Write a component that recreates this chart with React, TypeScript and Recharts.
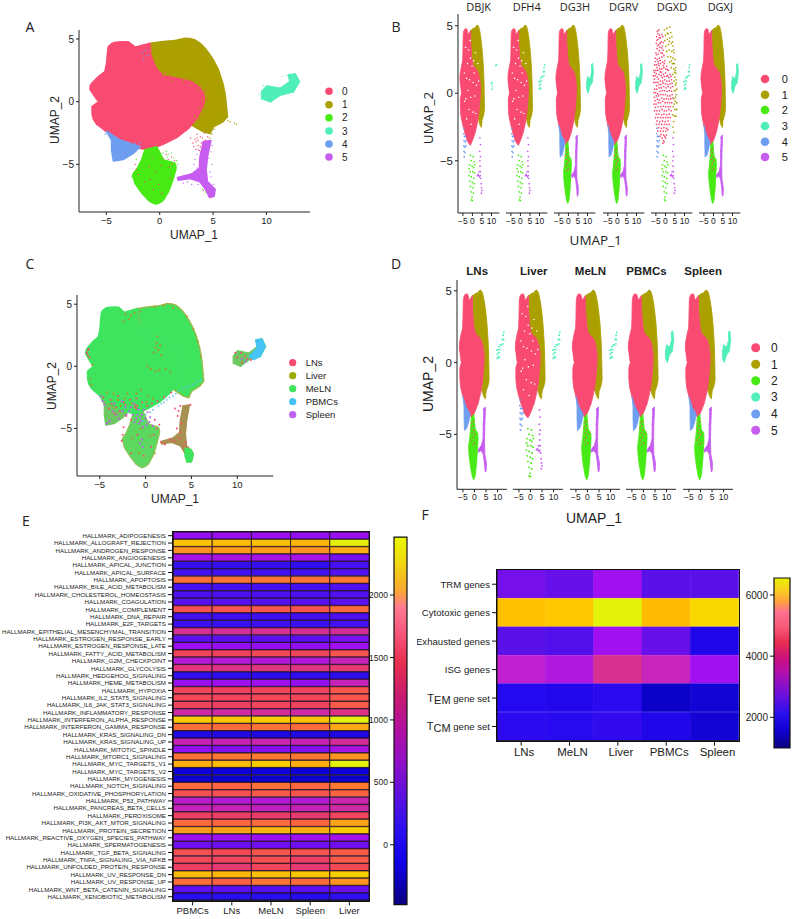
import React from "react";
import { ScatterChart, Scatter, XAxis, YAxis, BarChart, Bar, Cell } from "recharts";

type Pt = [number, number];
const FONT = "'Liberation Sans', Arial, sans-serif";
const LETTER = "'Open Sans', sans-serif";

// ---------- colours
const clusterColors = ["#F94B72", "#ABA000", "#47EA14", "#50EEB8", "#6E9EF0", "#C65DF0"];
const clusterNames = ["0", "1", "2", "3", "4", "5"];
const tissueNames = ["LNs", "Liver", "MeLN", "PBMCs", "Spleen"];
const tissueColors = ["#F94B72", "#9DA800", "#3EE35E", "#45C4F5", "#BC64F0"];
const MIX_GREEN = "#3EE35E";

// ---------- UMAP cluster outlines
const outline0: Pt[] = [[-4.91,3.72],[-4.81,4.39],[-4.5,4.62],[-4.19,4.73],[-3.5,4.78],[-2.94,4.76],[-2.6,4.55],[-2.31,4.34],[-1.6,4.5],[-0.91,4.65],[-0.84,3.72],[-0.34,2.66],[0.34,2.05],[1.59,1.86],[2.84,1.6],[3.4,1.35],[3.78,1.06],[4.05,0.75],[4.19,0.4],[4.15,-0.05],[3.94,-0.53],[3.47,-1.33],[2.69,-2.13],[1.59,-2.85],[0.34,-3.38],[-1.06,-3.86],[-2.47,-3.59],[-3.72,-3.06],[-4.97,-2.39],[-5.91,-1.78],[-6.2,-1.4],[-6.31,-1.06],[-6.34,-0.4],[-5.95,-0.15],[-5.69,0],[-5.9,0.2],[-6.06,0.4],[-6.53,0.98],[-6.5,1.25],[-6.38,1.46],[-5.75,1.99],[-5.13,2.39],[-4.97,3.06]];
const outline1: Pt[] = [[-0.91,4.65],[0.34,4.79],[1.44,4.87],[2.38,5.05],[2.9,5.02],[3.31,4.92],[3.85,4.6],[4.25,4.26],[4.7,3.75],[5.03,3.32],[5.5,2.53],[5.91,1.46],[6.1,0.7],[6.22,-0.13],[6.34,-1.2],[5.91,-1.6],[5.03,-2],[4.72,-2.53],[4.09,-2.39],[3,-1.86],[0,0]];
const outline2: Pt[] = [[-1.38,-3.85],[-0.28,-3.6],[0.34,-4.65],[1.44,-4.92],[1.53,-5.32],[1.22,-6.25],[0.81,-7.18],[0.34,-7.85],[0,-8.05],[-0.34,-8.16],[-0.7,-8.05],[-1.06,-7.85],[-1.69,-7.26],[-2.31,-6.52],[-2.53,-5.85],[-2.09,-5.32],[-1.69,-4.65]];
const outline3: Pt[] = [[9.56,0.8],[10.03,1.25],[11.28,1.06],[12.22,1.6],[12.06,2.13],[12.69,2.21],[13.09,1.6],[12.53,0.8],[11.28,0.53],[10.34,0],[9.56,0.27]];
const outline4: Pt[] = [[-4.97,-2.39],[-3.72,-3.06],[-1.84,-3.59],[-2.47,-4.12],[-3.41,-4.6],[-4.34,-4.73],[-4.5,-3.86],[-4.5,-3.06]];
const outline5: Pt[] = [[4.09,-3.19],[4.78,-3.11],[4.47,-4.39],[4.34,-5.45],[4.47,-6.38],[5.19,-7],[5.09,-7.53],[4.66,-7.63],[4.34,-7.05],[3.78,-6.38],[2.84,-6.12],[1.75,-6.25],[1.66,-6.06],[3,-5.77],[3.72,-5.32],[3.78,-4.39]];
const footOutline: Pt[] = [[4.3,-6.6],[5,-6.7],[5.2,-7.1],[5,-7.7],[4.5,-7.7],[4.3,-7.2]];
const pbmcOutline: Pt[] = [[11.3,0.8],[12.2,1.5],[12,2.1],[12.7,2.2],[13.05,1.6],[12.5,0.8],[11.8,0.55]];
const outlines = [outline0, outline1, outline2, outline3, outline4, outline5];

// ---------- loose cells
const aPink: Pt[] = [[3.5,-2.6],[3.8,-2.8],[4.2,-2.5],[4.5,-2.8],[3.4,-3.2],[3.6,-3.5],[3.9,-3.3],[4.1,-3.6],[3.4,-3.8],[3.7,-3.9],[3.9,-4],[3.2,-3.6],[4.3,-3.1],[2.9,-2.9],[3.1,-3.3],[0.6,-4.2],[1.1,-4.4],[1.4,-4.7],[1.2,-5],[0.8,-4.6],[0.3,-4.5],[0.9,-5.2],[-2.3,-5],[-2.2,-5.4],[-2,-5.8],[-0.7,-4.5],[-1,-5.2],[-0.4,-5.6],[-0.9,-6.2],[-0.1,-6.6],[0.1,-5.1],[-1.4,-6.4],[-0.6,-7],[0.2,-7.3],[1,-6.1],[0.5,2.3],[1,2.1],[2,1.9],[2.5,1.8],[3,1.7],[3.8,1.2],[4.3,0.9],[4.4,0.2],[4.2,-0.4],[4,-1],[3.7,-1.4],[3.3,-3],[3.6,-3.1],[4,-2.9],[3.5,-2.9],[3.8,-3.6],[3.6,-3.8]];
const aOlive: Pt[] = [[6.6,-1.6],[7,-1.7],[7.2,-1.8],[6.4,-1.5],[5.1,-2.2],[4.9,-2.6],[4.7,-2.9],[-0.5,3.6],[-0.3,3],[0,2.5],[0.3,2.1],[1.2,1.7],[2.2,1.6],[3,1.3],[3.6,1],[4,0.2],[3.7,-0.5],[3.3,-1.2]];
const aGreen: Pt[] = [[-2.2,-4.6],[-2.4,-5.6],[-2.6,-6],[0.3,-4.1],[0.8,-4.2],[1.3,-4.5],[1.6,-4.7],[1,-4.8],[1.5,-5.2],[1.7,-5],[0.6,-3.95],[4,-7],[4.3,-7.2],[0.2,-4.4],[0.7,-4.4],[1.1,-4.1]];
const aPurple: Pt[] = [[3.2,-5],[3.3,-4.6],[4.9,-5],[4.6,-4.5],[4.7,-5.6],[3,-5.9],[2.5,-5.9],[2.2,-6.5],[3,-6.6],[3.6,-6.6],[4.1,-7.1],[5,-6.6],[4.8,-6],[3.7,-3.9],[3.5,-4.2],[3.5,-5.3],[3.4,-5.7],[4.8,-4],[4.9,-3.5],[2.6,-6.4]];
const aBlue: Pt[] = [[-4.8,-2.4],[-5.1,-2.6],[-4.6,-2.9],[-3.5,-3.3],[-3,-3.4],[-2.3,-3.3],[-1.8,-3.3],[-1.6,3.9],[-1.3,4.1],[-1.1,3.7],[-1.5,3.4]];
const aTeal: Pt[] = [[9.3,0.6],[9.7,1.3],[9.5,0.2],[10.5,-0.05],[11.9,2.1],[11.5,2.05]];

// ---------- sparse samples (DGXD, DBJK, Liver ...)
const sparse0: Pt[] = [[-4.2,4.6],[-3.4,4.7],[-4.6,4.2],[-3.1,4.3],[-3.9,4],[-2.6,4.1],[-4.8,3.7],[-3.5,3.6],[-2.2,3.8],[-1.4,4.2],[-4.4,3.3],[-2.9,3.4],[-1.6,3.5],[-5,3],[-3.7,2.9],[-2.4,3],[-1.2,3.2],[-5.2,2.6],[-4.3,2.5],[-3.2,2.6],[-1.9,2.7],[-0.8,2.8],[-5.6,2.1],[-4.7,2.1],[-3.6,2.2],[-2.5,2.2],[-1.4,2.3],[-0.3,2.4],[-6,1.7],[-5,1.7],[-4,1.7],[-3,1.8],[-1.9,1.8],[-0.8,1.9],[0.6,2],[1.5,1.7],[-6.3,1.3],[-5.4,1.3],[-4.3,1.2],[-3.3,1.4],[-2.2,1.3],[-1.1,1.4],[0.1,1.5],[1.2,1.3],[2.4,1.4],[-6.1,0.8],[-5,0.8],[-3.9,0.8],[-2.7,0.9],[-1.5,0.9],[-0.4,1],[0.8,0.9],[2,0.9],[3.1,1],[-5.7,0.3],[-4.5,0.3],[-3.3,0.4],[-2.1,0.4],[-0.9,0.5],[0.3,0.4],[1.5,0.5],[2.7,0.4],[3.8,0.5],[-5.8,-0.3],[-4.8,-0.2],[-3.6,-0.2],[-2.4,-0.1],[-1.2,-0.1],[0,-0.1],[1.1,-0.2],[2.3,-0.2],[3.5,-0.1],[-6,-0.8],[-4.9,-0.8],[-3.7,-0.7],[-2.6,-0.7],[-1.4,-0.6],[-0.2,-0.7],[1,-0.7],[2.2,-0.7],[3.3,-0.7],[-5.7,-1.3],[-4.4,-1.3],[-3.1,-1.3],[-1.8,-1.2],[-0.6,-1.3],[0.6,-1.3],[1.8,-1.2],[3,-1.3],[-5.2,-1.8],[-3.9,-1.8],[-2.5,-1.8],[-1.2,-1.8],[0.1,-1.8],[1.3,-1.8],[2.5,-1.8],[-4.7,-2.3],[-3.3,-2.3],[-1.9,-2.3],[-0.5,-2.3],[0.8,-2.3],[2,-2.3],[-4,-2.8],[-2.6,-2.8],[-1.2,-2.8],[0.2,-2.8],[1.3,-2.7],[-3,-3.2],[-1.7,-3.3],[-0.4,-3.2],[0.5,-3.1],[-1.3,-3.7],[-0.7,-3.6]];
const sparse0Extra: Pt[] = [[-4,4.42],[-3.2,4.13],[-4.5,3.92],[-2.8,3.71],[-1.9,4.35],[-1.1,3.75],[-4.1,3.52],[-3.2,3.15],[-2,3.35],[-4.7,2.85],[-3.9,2.35],[-2.8,2.43],[-1.6,2.95],[-0.6,2.2],[-5.3,2.35],[-4.4,1.9],[-3.3,2.05],[-2.2,1.55],[-1.2,2.05],[0.2,1.8],[1,1.75],[-5.7,1.55],[-4.7,1.45],[-3.6,1.05],[-2.6,1.6],[-1.6,1.15],[-0.6,1.25],[0.6,1.25],[1.8,1.15],[2.9,1.25],[-5.8,1.05],[-4.6,0.55],[-3.4,0.65],[-2.4,0.65],[-1.2,0.75],[0,0.7],[1.2,0.65],[2.4,0.7],[3.5,0.75],[-6,0.05],[-5.1,0.05],[-4,-0.05],[-2.8,0.15],[-1.6,0.2],[-0.5,0.2],[0.8,0.15],[2,0.2],[3.2,0.15],[-5.4,-0.55],[-4.2,-0.45],[-3.1,-0.5],[-1.9,-0.35],[-0.7,-0.45],[0.5,-0.4],[1.7,-0.45],[2.8,-0.4],[3.7,-0.35],[-5.3,-1.05],[-3.9,-1],[-2.4,-1],[-1.1,-0.95],[0.1,-1],[1.4,-1],[2.6,-1],[-4.8,-1.55],[-3.5,-1.55],[-2,-1.6],[-0.8,-1.55],[0.7,-1.6],[2,-1.55],[-4.4,-2.05],[-2.9,-2.1],[-1.5,-2.05],[-0.1,-2.1],[1.4,-2.05],[-3.6,-2.55],[-2.1,-2.6],[-0.8,-2.55],[0.6,-2.6],[-2.4,-3.05],[-1,-3.1],[0.1,-3.3],[-1,-3.5]];
const sparse1: Pt[] = [[-0.6,4.7],[0.8,4.8],[2.3,4.9],[0,4.3],[1.5,4.4],[2.8,4.5],[-0.3,3.9],[1,4],[2.3,4.1],[3.4,4.2],[0.2,3.5],[1.6,3.6],[3,3.7],[4,3.5],[0.6,3.1],[2,3.2],[3.4,3.1],[4.6,3],[1.3,2.7],[2.8,2.7],[4,2.6],[5,2.5],[2.2,2.3],[3.6,2.2],[4.7,2.2],[5.4,1.9],[3.1,1.9],[4.4,1.8],[5.5,1.5],[3.9,1.4],[5,1.2],[5.7,1],[4.5,0.9],[5.3,0.6],[5.9,0.3],[4.7,0.2],[5.6,-0.1],[4.4,-0.4],[5.2,-0.6],[6,-0.7],[4.1,-1],[5,-1.2],[5.9,-1.2],[3.9,-1.6],[4.8,-1.7],[5.5,-1.7],[4.3,-2.1],[3.9,-2.5],[4.4,-2.9],[1,4.45],[2,3.85],[3.7,3.8],[4.3,3.2],[3.2,2.4],[4.2,2.2],[5.2,1.7],[4.8,1.55],[5.6,0.75],[5.1,0.2],[5.3,-0.3],[4.6,-0.8]];
const sparse2: Pt[] = [[-1.1,-4.6],[0.4,-4.7],[-0.6,-5],[0.9,-5.1],[-1.5,-5.3],[-0.2,-5.4],[0.6,-5.5],[-1.2,-5.8],[0.2,-5.8],[1.1,-5.9],[-1.8,-6.1],[-0.6,-6.2],[0.7,-6.3],[-1.4,-6.5],[-0.1,-6.6],[0.9,-6.7],[-1.1,-6.9],[0.3,-7],[-0.6,-7.3],[0.5,-7.4],[-0.2,-7.7],[-0.5,-7.9],[0,-7.95],[-1.7,-5.6],[1.3,-5.3]];
const sparse3: Pt[] = [[10,0.6],[10.3,0.4],[10.6,0.7],[11,0.9],[11.5,1.2],[12,1.6],[12.4,1.9],[12.7,2.1],[9.9,0.3],[10.2,0.9],[10.8,0.35],[11.2,1.25],[12.3,1.3],[12.6,1.6],[9.7,0.85],[10.5,1.1]];
const sparse3Few: Pt[] = [[10,0.7],[10.2,0.3],[10.5,0.5],[10.3,0.8],[12.2,2.05],[12.6,2.1]];
const sparse4: Pt[] = [[-4.6,-3],[-4.2,-3.2],[-3.6,-3.2],[-4.4,-3.5],[-3.8,-3.6],[-3.2,-3.5],[-4.5,-3.9],[-4,-4],[-3.5,-3.9],[-4.4,-4.3],[-3.8,-4.4],[-4.3,-4.7],[-4.5,-2.6]];
const sparse5: Pt[] = [[3.9,-3.3],[4.2,-3.8],[3.8,-4.3],[4.2,-4.7],[3.9,-5],[4,-5.4],[3.5,-5.8],[4.2,-5.8],[3,-6],[2.6,-6.1],[3.7,-6.2],[4.4,-6.3],[4.6,-6.7],[4.8,-7],[4.7,-7.4],[5,-7.2],[3.3,-6.1],[4.1,-6.1]];
const gapPoints: Pt[] = [[-2,3.2],[-1,2.6],[-0.2,2],[1,1.5],[-3,1.1],[-1.5,1],[0.4,0.8],[-2.4,0.2],[-0.9,-0.3],[1.2,-0.2],[2.1,0.6],[-4,-0.6],[-1.8,-1.2],[0.3,-1.4],[-3,-1.9],[-0.6,-2.3],[-4.2,1.5],[1.8,-1.5],[-2.6,2.2],[-3.6,3.4],[0.6,2.4],[1.6,3],[2.8,2.2],[3.2,0.9],[-1.2,3.9],[-3.4,-0.4]];
const mixedInGreen: Pt[] = [[-1.2,-4.2],[-0.7,-4.4],[-0.3,-4.7],[-1,-4.9],[-0.5,-5.2],[-1.3,-5.4],[0.2,-5],[-0.8,-5.7],[0.1,-5.6],[-1.6,-4.6],[-0.2,-4.1]];

// ---------- loose cells of panel C
const cPurple: Pt[] = [[-4.9,-2.4],[-4.7,-2.8],[-4.5,-3.1],[-3.6,-3.6],[-3.2,-3.9],[-2.9,-4.2],[-3.9,-4.4],[-4.2,-4.6],[-2.2,-3.3],[-1.8,-3.6],[-1.4,-3.9],[-1,-4.2],[-0.7,-4.6],[-0.4,-3.9],[0,-4.2],[0.4,-4.5],[0.8,-4.8],[-1.3,-3],[-0.8,-3.5],[-0.3,-4.9],[-0.6,-6.2],[-0.3,-6.5],[-0.4,-5.9],[0.2,-3.7],[-2.6,-2.8],[-3.4,-3],[10.5,0.6],[10.9,0.4],[-0.6,-4.1],[-1.2,-4.5],[-0.2,-3.5],[0.5,-4.1],[-2.5,-3.6],[-2.1,-3.9],[-1.6,-3.3],[-0.9,-3.9],[-0.5,-4.4],[0.1,-4.7]];
const cPink: Pt[] = [[-4.6,-2.5],[-3.8,-2.7],[-3,-2.4],[-2.4,-2.9],[-1.7,-2.7],[-1,-2.6],[-0.4,-2.9],[-1.2,-3.3],[-1,-3.4],[-0.9,-3.2],[-1.1,-3.1],[-2.8,-3.6],[-2.1,-4],[-1.6,-4.3],[-4,-3.4],[-3.4,-3.8],[0.2,-3.2],[0.7,-3],[1.3,-2.8],[2,-2.5],[2.8,-2.1],[-2.4,-4.9],[-2.5,-5.5],[-2.6,-6],[1.2,-5],[1.5,-4.7],[1,-4.3],[0.9,-5.5],[4.9,-3.1],[3.8,-3.2],[3.5,-4],[3.2,-3.4],[3.4,-5],[3.7,-5.8],[2.7,-5.9],[2.1,-6.3],[1.7,-6.1],[4.2,-6.4],[-0.9,-5.5],[-0.2,-7.2],[0.6,-6.5],[-1.6,-7],[-6.3,0.9],[-6.4,1.1],[-6.2,1.4],[-6.1,0.7],[-6.3,1.3],[10,0.7],[10.5,0.3],[10.8,0.8],[11.1,0.6],[9.8,1.1],[10.4,1.1],[11.5,0.5],[-3.2,-3.3],[-2.2,-3.1],[-3.7,-3],[3.6,-3.6],[3.9,-4.6],[3.8,-5.3],[3.1,-6],[4.4,-6.1]];
const cCyan: Pt[] = [[0,-3.9],[0.8,-3.5],[1.4,-3.2],[2,-2.9],[2.6,-2.5],[3.3,-2.2],[4,-1.8],[4.7,-1.6],[5.4,-1.4],[6,-1.1],[0.5,-3.7],[1.7,-3],[-0.3,-4.4],[2.3,-2.7],[3,-2.4],[3.6,-2],[4.4,-1.7],[5.1,-1.5],[5.7,-1.2]];
const cOlive: Pt[] = [[-2.2,4.2],[-1.8,3.8],[-1.2,4.3],[-0.6,4.4],[1,4.8],[2,4.9],[3,4.7],[1.2,1.9],[1.1,1.5],[0.9,1.1],[1.4,1.3],[1.7,0.9],[0.2,0],[0.6,-0.2],[1.5,-0.3],[2.2,-0.2],[2.7,-0.5],[1.1,-0.4],[4.5,4],[5.2,3],[5.7,2],[6,0.8],[-3,-2.7],[-2,-2.2],[-1.5,-3],[-0.5,-1.9],[-3.5,-2.2],[-2.7,-3.2],[0.8,-2.6],[0.3,-2.4],[-0.7,-7],[0.5,-5.6],[-0.5,-5],[-1.5,-5.8],[1,-7],[-2.4,3.6],[-1.6,4.1],[1.3,2.4],[1.6,1.7],[-4.2,-2.1],[-2.3,-2.6],[-1,-2.2],[0.1,-2.9],[-3.6,-3.2],[-6,-1],[-5.9,-1.5],[-5.8,0.1]];

// ---------- facets: which clusters are dense, which are sparse
type Facet = { name: string; dense: number[]; sparse: Pt[][]; sparseIdx: number[]; gaps?: boolean };
const sampleFacets: Facet[] = [
  { name: "DBJK", dense: [1, 0], sparse: [sparse2, sparse3Few, sparse4, sparse5], sparseIdx: [2, 3, 4, 5], gaps: true },
  { name: "DFH4", dense: [1, 0], sparse: [sparse2, sparse3, sparse4, sparse5], sparseIdx: [2, 3, 4, 5], gaps: true },
  { name: "DG3H", dense: [1, 0, 4, 2, 5, 3], sparse: [], sparseIdx: [] },
  { name: "DGRV", dense: [1, 0, 4, 2, 5, 3], sparse: [], sparseIdx: [] },
  { name: "DGXD", dense: [], sparse: [sparse1, sparse0, sparse0Extra, sparse2, sparse3, sparse4, sparse5], sparseIdx: [1, 0, 0, 2, 3, 4, 5] },
  { name: "DGXJ", dense: [1, 0, 4, 2, 5, 3], sparse: [], sparseIdx: [] },
];
const tissueFacets: Facet[] = [
  { name: "LNs", dense: [1, 0, 4, 2, 5], sparse: [sparse3], sparseIdx: [3] },
  { name: "Liver", dense: [1, 0], sparse: [sparse2, sparse3, sparse4, sparse5], sparseIdx: [2, 3, 4, 5], gaps: true },
  { name: "MeLN", dense: [1, 0, 4, 2, 5], sparse: [sparse3], sparseIdx: [3] },
  { name: "PBMCs", dense: [1, 0, 4, 2, 5, 3], sparse: [], sparseIdx: [] },
  { name: "Spleen", dense: [1, 0, 4, 2, 5, 3], sparse: [], sparseIdx: [] },
];

// ---------- heatmap E
const hallmarkNames = ["ADIPOGENESIS","ALLOGRAFT_REJECTION","ANDROGEN_RESPONSE","ANGIOGENESIS","APICAL_JUNCTION","APICAL_SURFACE","APOPTOSIS","BILE_ACID_METABOLISM","CHOLESTEROL_HOMEOSTASIS","COAGULATION","COMPLEMENT","DNA_REPAIR","E2F_TARGETS","EPITHELIAL_MESENCHYMAL_TRANSITION","ESTROGEN_RESPONSE_EARLY","ESTROGEN_RESPONSE_LATE","FATTY_ACID_METABOLISM","G2M_CHECKPOINT","GLYCOLYSIS","HEDGEHOG_SIGNALING","HEME_METABOLISM","HYPOXIA","IL2_STAT5_SIGNALING","IL6_JAK_STAT3_SIGNALING","INFLAMMATORY_RESPONSE","INTERFERON_ALPHA_RESPONSE","INTERFERON_GAMMA_RESPONSE","KRAS_SIGNALING_DN","KRAS_SIGNALING_UP","MITOTIC_SPINDLE","MTORC1_SIGNALING","MYC_TARGETS_V1","MYC_TARGETS_V2","MYOGENESIS","NOTCH_SIGNALING","OXIDATIVE_PHOSPHORYLATION","P53_PATHWAY","PANCREAS_BETA_CELLS","PEROXISOME","PI3K_AKT_MTOR_SIGNALING","PROTEIN_SECRETION","REACTIVE_OXYGEN_SPECIES_PATHWAY","SPERMATOGENESIS","TGF_BETA_SIGNALING","TNFA_SIGNALING_VIA_NFKB","UNFOLDED_PROTEIN_RESPONSE","UV_RESPONSE_DN","UV_RESPONSE_UP","WNT_BETA_CATENIN_SIGNALING","XENOBIOTIC_METABOLISM"];
const hallmarkSamples = ["PBMCs", "LNs", "MeLN", "Spleen", "Liver"];
const hmPBMCs = [600,2130,1950,700,180,230,1780,250,280,320,1550,240,200,1150,350,620,1450,800,1250,150,620,1450,1480,1450,1050,2180,1780,50,950,600,1800,2050,-100,-160,1750,1550,850,950,1400,1750,1980,620,420,1550,1480,1380,2100,1780,350,100];
const hmLNs = [620,2100,1980,720,180,220,1800,240,270,320,1580,200,180,1120,340,600,1420,800,1200,130,640,1400,1450,1400,1050,2150,1750,50,950,520,1820,2100,-110,-160,1720,1550,800,950,1380,1720,2000,620,400,1500,1450,1300,2080,1680,330,100];
const hmMeLN = [620,2120,1980,700,180,220,1830,240,270,310,1600,220,200,1150,340,600,1480,780,1230,120,640,1450,1480,1450,1100,2180,1800,30,980,530,1850,2180,-90,-150,1780,1650,800,900,1350,1750,2080,620,420,1600,1550,1450,2120,1820,320,100];
const hmSpleen = [600,2080,1950,700,150,230,1800,240,280,320,1580,230,200,1130,340,580,1450,760,1220,140,600,1420,1470,1430,1050,2130,1750,40,950,520,1820,2050,-120,-170,1730,1580,800,950,1320,1720,2050,640,420,1580,1380,1300,2150,1750,330,90];
const hmLiver = [620,2400,2050,450,250,300,1850,280,300,330,1750,280,230,1100,480,650,1580,950,1300,130,950,1600,1620,1650,1200,2430,2020,30,1100,720,1950,2420,-100,-170,1850,1720,1000,1050,1450,2000,2180,700,430,1650,1650,1500,2200,1950,400,150];
const hallmarkColumns = [hmPBMCs, hmLNs, hmMeLN, hmSpleen, hmLiver];
const hallmarkBarTicks = [0, 500, 1000, 1500, 2000];

// ---------- heatmap F
const geneSets = ["TRM genes", "Cytotoxic genes", "Exhausted genes", "ISG genes", "TEM gene set", "TCM gene set"];
const geneSamples = ["LNs", "MeLN", "Liver", "PBMCs", "Spleen"];
const gsLNs = [2700, 5950, 2500, 3400, 1900, 2000];
const gsMeLN = [2600, 6000, 2400, 3200, 1850, 1950];
const gsLiver = [3000, 6400, 3000, 3700, 2000, 2050];
const gsPBMCs = [2500, 5900, 2600, 3500, 1300, 1800];
const gsSpleen = [2500, 6100, 1800, 3000, 1500, 1500];
const geneColumns = [gsLNs, gsMeLN, gsLiver, gsPBMCs, gsSpleen];
const geneBarTicks = [2000, 4000, 6000];

// ---------- palettes  [value, colour]
const cellStopsE: [number, string][] = [[-480,"#08008A"],[-100,"#0E00D8"],[150,"#3010F0"],[400,"#6A10F0"],[650,"#A010F0"],[900,"#C020C0"],[1150,"#D83090"],[1400,"#EE4060"],[1650,"#FA5A48"],[1850,"#FF7A30"],[2050,"#FFB010"],[2200,"#F8D000"],[2465,"#E0F810"]];
const cellStopsF: [number, string][] = [[997,"#08008A"],[1300,"#0A00C8"],[1900,"#2408F0"],[2500,"#5A10E8"],[3000,"#A010F0"],[3400,"#C020D0"],[3700,"#D83090"],[5000,"#FA6A50"],[5950,"#FFC000"],[6100,"#F8D800"],[6555,"#D8FF10"]];
const barStopsE: [number, string][] = [[0,"#0A0080"],[0.114,"#1000E8"],[0.204,"#2A10F0"],[0.293,"#5A10E0"],[0.386,"#9010C8"],[0.476,"#B010A0"],[0.565,"#C81A70"],[0.658,"#E83050"],[0.747,"#F85A80"],[0.81,"#FF7C90"],[0.856,"#F8A830"],[0.93,"#F2D810"],[1,"#E8F800"]];
const barStopsF: [number, string][] = [[0,"#0A0080"],[0.1,"#1000D0"],[0.2,"#2810F0"],[0.32,"#7010D8"],[0.44,"#B010B0"],[0.52,"#C81080"],[0.62,"#E82C50"],[0.71,"#F85A78"],[0.8,"#FF7090"],[0.86,"#FFA040"],[0.93,"#F8D020"],[1,"#E8F000"]];

function hexToRgb(h: string) { return [1, 3, 5].map((i) => parseInt(h.slice(i, i + 2), 16)); }
function colorOf(stops: [number, string][], v: number) {
  for (let i = 1; i < stops.length; i++) {
    if (v <= stops[i][0]) {
      const [a, ca] = stops[i - 1]; const [b, cb] = stops[i];
      const t = Math.max(0, (v - a) / (b - a));
      const A = hexToRgb(ca), B = hexToRgb(cb);
      return `rgb(${A.map((x, k) => Math.round(x + (B[k] - x) * t)).join(",")})`;
    }
  }
  return stops[stops.length - 1][1];
}

// ---------- UMAP chart
type Fill = { pts: Pt[]; color: string; stroke?: string };
type Dots = { pts: Pt[]; color: string; r: number };
type Box = { x0: number; y0: number; x1: number; y1: number };
const minus = (v: number) => (v < 0 ? "\u2212" + Math.abs(v) : String(v));
const noDot = () => <g />;
function Umap({ box, xd, yd, fills, dots, showY, xFont, yFont, edge }: { box: Box; xd: [number, number]; yd: [number, number]; fills: Fill[]; dots: Dots[]; showY: boolean; xFont: number; yFont: number; edge: number }) {
  const YW = 32, XH = 24, T = 4, R = 8;
  return (
    <div style={{ position: "absolute", left: box.x0 - YW, top: box.y0 - T }}>
      <ScatterChart width={box.x1 - box.x0 + YW + R} height={box.y1 - box.y0 + T + XH} margin={{ top: T, right: R, bottom: 0, left: showY ? 0 : YW }}>
        <XAxis type="number" dataKey="x" domain={xd} allowDataOverflow ticks={[-5, 0, 5, 10]} interval={0} tickFormatter={minus} height={XH} tickSize={3} stroke="#222" tick={{ fontSize: xFont, fontFamily: FONT, fill: "#222" }} />
        <YAxis type="number" dataKey="y" domain={yd} allowDataOverflow ticks={[-5, 0, 5]} interval={0} tickFormatter={minus} width={YW} tickSize={3} stroke="#222" hide={!showY} tick={{ fontSize: yFont, fontFamily: FONT, fill: "#222" }} />
        {fills.map((f, i) => (
          <Scatter key={"f" + i} data={[...f.pts, f.pts[0]].map(([x, y]) => ({ x, y }))} shape={noDot} isAnimationActive={false} lineType="joint" lineJointType="linear"
            line={{ fill: f.color, stroke: f.stroke || f.color, strokeWidth: edge, strokeDasharray: "0.8 1", strokeLinecap: "round", strokeLinejoin: "round" }} />
        ))}
        {dots.map((d, i) => (
          <Scatter key={"d" + i} data={d.pts.map(([x, y]) => ({ x, y }))} isAnimationActive={false} shape={(p: any) => <circle cx={p.cx} cy={p.cy} r={d.r} fill={d.color} />} />
        ))}
      </ScatterChart>
    </div>
  );
}

function facetLayers(f: Facet, r: number) {
  const fills: Fill[] = f.dense.map((i) => ({ pts: outlines[i], color: clusterColors[i] }));
  const dots: Dots[] = f.sparse.map((pts, k) => ({ pts, color: clusterColors[f.sparseIdx[k]], r }));
  if (f.gaps) dots.push({ pts: gapPoints, color: "#ffffff", r: 0.8 });
  if (f.dense.includes(2)) dots.push({ pts: mixedInGreen, color: clusterColors[0], r: 0.7 });
  if (f.dense.includes(2)) dots.push({ pts: sparse5.slice(0, 5), color: clusterColors[5], r: 0.8 });
  return { fills, dots };
}

// ---------- heatmap
function Heat({ box, names, samples, columns, stops, yw, yFont, xFont, stroke, yTick, xOffset }: any) {
  const XH = 24;
  const rows = names.map((name: string, r: number) => {
    const o: any = { name };
    samples.forEach((s: string, c: number) => { o[s] = columns[c][r]; });
    return o;
  });
  return (
    <div style={{ position: "absolute", left: box.x0 - yw, top: box.y0 }}>
      <BarChart layout="vertical" width={box.x1 - box.x0 + yw + 4} height={box.y1 - box.y0 + XH} data={rows} barCategoryGap={0} margin={{ top: 0, right: 4, bottom: 0, left: 0 }}>
        <XAxis type="number" domain={[0, samples.length]} ticks={samples.map((_: string, i: number) => i + 0.5)} interval={0} height={XH} tickSize={5} stroke="#111" tickFormatter={(v: number) => samples[Math.floor(v)]} tick={{ fontSize: xFont, fontFamily: FONT, fill: "#222", dx: xOffset || 0 }} />
        <YAxis type="category" dataKey="name" width={yw} interval={0} tickSize={5} stroke="#111" tick={yTick || { fontSize: yFont, fontFamily: FONT, fill: "#222" }} />
        {samples.map((s: string, c: number) => (
          <Bar key={s} name={s} dataKey={() => 1} stackId="h" isAnimationActive={false}>
            {rows.map((_: any, r: number) => {
              const fill = colorOf(stops, columns[c][r]);
              return <Cell key={r} fill={fill} stroke={stroke || fill} strokeWidth={stroke ? 0.8 : 0.6} />;
            })}
          </Bar>
        ))}
      </BarChart>
      <div style={{ position: "absolute", left: yw - 1, top: -1, width: box.x1 - box.x0, height: box.y1 - box.y0, border: "1.5px solid #111", pointerEvents: "none" }} />
    </div>
  );
}

function ColorBar({ id, box, lo, hi, ticks, stops, font }: any) {
  const YW = 34;
  return (
    <div style={{ position: "absolute", left: box.x0 - YW, top: box.y0 - 6 }}>
      <BarChart width={box.x1 - box.x0 + YW + 2} height={box.y1 - box.y0 + 12} data={[{ k: "scale", span: [lo, hi] }]} barCategoryGap={0} margin={{ top: 6, right: 2, bottom: 6, left: 0 }}>
        <defs>
          <linearGradient id={id} x1="0" y1="1" x2="0" y2="0">
            {stops.map(([t, c]: [number, string]) => <stop key={t} offset={t} stopColor={c} />)}
          </linearGradient>
        </defs>
        <XAxis dataKey="k" type="category" hide />
        <YAxis type="number" domain={[lo, hi]} ticks={ticks} interval={0} width={YW} tickSize={4} axisLine={false} stroke="#111" tick={{ fontSize: font, fontFamily: FONT, fill: "#222" }} />
        <Bar dataKey="span" fill={`url(#${id})`} stroke="#111" strokeWidth={1.2} isAnimationActive={false} />
        <YAxis yAxisId="inner" orientation="right" mirror type="number" domain={[lo, hi]} ticks={ticks} interval={0} width={0} tickSize={3} axisLine={false} stroke="#111" tickFormatter={() => ""} />
      </BarChart>
    </div>
  );
}

const GeneTick = (p: any) => {
  const v: string = p.payload.value;
  const sub = v.startsWith("TEM") ? "EM" : v.startsWith("TCM") ? "CM" : null;
  return (
    <text x={p.x} y={p.y} dy={3.5} textAnchor="end" fontFamily={FONT} fontSize={9.6} fill="#222">
      {sub ? (
        <>
          <tspan fontSize={11}>T</tspan>
          <tspan fontSize={11} dy={2}>{sub}</tspan>
          <tspan dy={-2}> gene set</tspan>
        </>
      ) : v}
    </text>
  );
};

const Txt = ({ x, y, s, size = 10, anchor = "middle", weight, family = FONT, rot }: any) => (
  <text x={x} y={y} fontSize={size} textAnchor={anchor} fontWeight={weight} fontFamily={family} fill="#222" transform={rot ? `rotate(-90 ${x} ${y})` : undefined}>{s}</text>
);
const Legend = ({ x, ys, tx, r, names, colors, size }: any) => (
  <g>
    {names.map((n: string, i: number) => (
      <g key={n}>
        <circle cx={x} cy={ys[i]} r={r} fill={colors[i]} />
        <text x={tx} y={ys[i] + size * 0.36} fontSize={size} fontFamily={FONT} fill="#222">{n}</text>
      </g>
    ))}
  </g>
);

const xDomain: [number, number] = [-7.56, 14.08];
const yDomain: [number, number] = [-8.83, 5.75];
const fullFills: Fill[] = [1, 0, 4, 2, 5, 3].map((i) => ({ pts: outlines[i], color: clusterColors[i] }));
const mixFills: Fill[] = [
  { pts: outline1, color: MIX_GREEN, stroke: "#9CB84A" },
  { pts: outline4, color: "#6CC860" },
  { pts: outline2, color: "#5CD860", stroke: "#8CC45A" },
  { pts: outline0, color: MIX_GREEN, stroke: MIX_GREEN },
  { pts: outline5, color: "#A89050" },
  { pts: footOutline, color: MIX_GREEN },
  { pts: outline3, color: "#6CC860" },
  { pts: pbmcOutline, color: tissueColors[3] },
];

export default function App() {
  const bw = 41.3;
  const bx = [457.7, 505.7, 554, 602.7, 651, 699.3];
  const dw = 50;
  const dx = [456.7, 513.3, 570, 626, 682.7];
  return (
    <div style={{ position: "absolute", left: 0, top: 0, width: 792, height: 919, overflow: "hidden", background: "#fff" }}>
      {/* A */}
      <Umap box={{ x0: 79, y0: 30, x1: 310, y1: 212 }} xd={xDomain} yd={[-8.8, 5.72]} showY xFont={9.5} yFont={10} edge={1.8}
        fills={fullFills}
        dots={[
          { pts: aOlive, color: clusterColors[1], r: 0.7 }, { pts: aPink, color: clusterColors[0], r: 0.7 }, { pts: aGreen, color: clusterColors[2], r: 0.7 },
          { pts: aPurple, color: clusterColors[5], r: 0.7 }, { pts: aBlue, color: clusterColors[4], r: 0.8 }, { pts: aTeal, color: clusterColors[3], r: 0.6 },
        ]} />
      {/* B */}
      {sampleFacets.map((f, i) => {
        const l = facetLayers(f, 0.85);
        return <Umap key={f.name} box={{ x0: bx[i], y0: 14, x1: bx[i] + bw, y1: 213 }} xd={xDomain} yd={[-8.87, 5.87]} showY={i === 0} xFont={8.5} yFont={11.5} edge={1} fills={l.fills} dots={l.dots} />;
      })}
      {/* C */}
      <Umap box={{ x0: 76.7, y0: 295, x1: 273, y1: 476 }} xd={[-7.48, 13.93]} yd={[-8.83, 5.74]} showY xFont={9.5} yFont={10} edge={1.5}
        fills={mixFills}
        dots={[
          { pts: cOlive, color: "#A89A30", r: 1.1 }, { pts: cCyan, color: "#5AC0E8", r: 0.9 }, { pts: cPurple, color: tissueColors[4], r: 1.1 }, { pts: cPink, color: tissueColors[0], r: 1 },
        ]} />
      {/* D */}
      {tissueFacets.map((f, i) => {
        const l = facetLayers(f, 0.95);
        return <Umap key={f.name} box={{ x0: dx[i], y0: 280, x1: dx[i] + dw, y1: 489.3 }} xd={xDomain} yd={yDomain} showY={i === 0} xFont={8.5} yFont={11.5} edge={1} fills={l.fills} dots={l.dots} />;
      })}
      {/* E */}
      <Heat box={{ x0: 173, y0: 532.3, x1: 369, y1: 900.7 }} names={hallmarkNames.map((n) => "HALLMARK_" + n)} samples={hallmarkSamples} columns={hallmarkColumns} stops={cellStopsE} yw={173} yFont={6.2} xFont={9.5} stroke="#1a0a20" />
      <ColorBar id="barE" box={{ x0: 394, y0: 537.3, x1: 406.7, y1: 905 }} lo={-480} hi={2465} ticks={hallmarkBarTicks} stops={barStopsE} font={8.5} />
      {/* F */}
      <Heat box={{ x0: 497.3, y0: 570, x1: 739, y1: 740.7 }} names={geneSets} samples={geneSamples} columns={geneColumns} stops={cellStopsF} yw={80} yFont={9.6} xFont={11.5} yTick={<GeneTick />} xOffset={3} />
      <ColorBar id="barF" box={{ x0: 774, y0: 578, x1: 790, y1: 748 }} lo={997} hi={6555} ticks={geneBarTicks} stops={barStopsF} font={10} />
      {/* text */}
      <svg width={792} height={919} style={{ position: "absolute", left: 0, top: 0, pointerEvents: "none" }}>
        <Txt x={30} y={32} s="A" size={14} family={LETTER} />
        <Txt x={396} y={32} s="B" size={14} family={LETTER} />
        <Txt x={30} y={269} s="C" size={14} family={LETTER} />
        <Txt x={396} y={269} s="D" size={14} family={LETTER} />
        <Txt x={26} y={526} s="E" size={14} family={LETTER} />
        <Txt x={425} y={520} s="F" size={14} family={LETTER} />

        <Txt x={194} y={239} s="UMAP_1" size={12} />
        <Txt x={59} y={120} s="UMAP_2" size={12} rot />
        <Legend x={329} ys={[91.3, 104.7, 117.7, 131, 144, 157]} tx={342} r={3.8} names={clusterNames} colors={clusterColors} size={10} />

        {sampleFacets.map((f, i) => <Txt key={f.name} x={bx[i] + 21} y={11} s={f.name} size={11} family={LETTER} />)}
        <Txt x={595.7} y={245} s="UMAP_1" size={13.5} family={LETTER} />
        <Txt x={433} y={118} s="UMAP_2" size={13.5} family={LETTER} rot />
        <Legend x={765} ys={[79, 94.7, 110, 126, 141.7, 157]} tx={781.7} r={4.3} names={clusterNames} colors={clusterColors} size={11} />

        <Txt x={175} y={503} s="UMAP_1" size={12} />
        <Txt x={56} y={386} s="UMAP_2" size={12} rot />
        <Legend x={292.7} ys={[362.7, 375.7, 388.7, 401.7, 414.7]} tx={305.7} r={3.6} names={tissueNames} colors={tissueColors} size={9.5} />

        {tissueFacets.map((f, i) => <Txt key={f.name} x={dx[i] + 20.5} y={275} s={f.name} size={11.5} weight="bold" />)}
        <Txt x={594} y={523} s="UMAP_1" size={14} />
        <Txt x={433} y={384} s="UMAP_2" size={14} rot />
        <Legend x={755.7} ys={[347.7, 364.3, 380.7, 397, 414, 430.3]} tx={771} r={4.5} names={clusterNames} colors={clusterColors} size={12} />
      </svg>
    </div>
  );
}
